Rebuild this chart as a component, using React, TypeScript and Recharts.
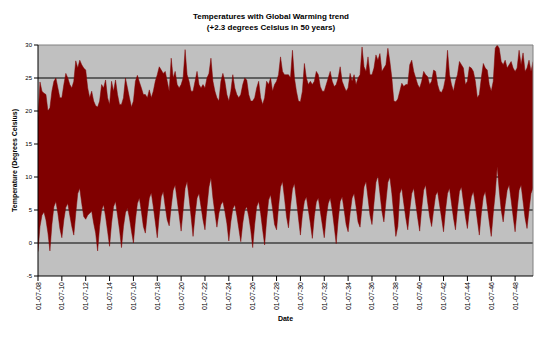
import React from "react";
import { AreaChart, Area, XAxis, YAxis, CartesianGrid, ReferenceLine, Label } from "recharts";

// six samples per year: Jan, Mar, May, Jul, Sep, Nov
const sampleMonths = ["Jan", "Mar", "May", "Jul", "Sep", "Nov"];

const years = [
  2008, 2009, 2010, 2011, 2012, 2013, 2014, 2015, 2016, 2017, 2018, 2019, 2020, 2021,
  2022, 2023, 2024, 2025, 2026, 2027, 2028, 2029, 2030, 2031, 2032, 2033, 2034, 2035,
  2036, 2037, 2038, 2039, 2040, 2041, 2042, 2043, 2044, 2045, 2046, 2047, 2048, 2049,
];

// daily maximum envelope (deg C)
const highByYear: number[][] = [
  [19.0, 24.4, 23.0, 22.7, 22.5, 20.0],
  [20.5, 23.0, 24.5, 25.0, 23.5, 22.0],
  [22.0, 24.0, 25.7, 25.0, 24.0, 23.5],
  [24.5, 27.6, 26.5, 27.7, 27.0, 26.5],
  [26.2, 23.5, 22.0, 23.0, 21.5, 20.8],
  [20.6, 21.5, 24.0, 23.5, 24.7, 22.0],
  [21.0, 24.5, 23.0, 24.7, 22.5, 21.0],
  [21.0, 22.0, 25.0, 23.5, 22.0, 20.6],
  [21.5, 24.5, 25.4, 24.4, 23.5, 22.5],
  [22.5, 22.0, 23.2, 22.0, 23.0, 24.5],
  [25.5, 26.7, 26.2, 25.7, 26.0, 24.5],
  [23.0, 28.0, 25.0, 26.0, 24.0, 23.5],
  [24.0, 25.0, 29.3, 25.5, 24.5, 23.0],
  [23.0, 24.5, 26.0, 24.0, 23.5, 24.0],
  [23.5, 25.0, 25.7, 28.0, 24.5, 23.0],
  [22.0, 21.5, 24.5, 25.7, 24.5, 22.5],
  [21.5, 23.0, 25.5, 23.5, 22.5, 22.0],
  [22.5, 24.0, 25.0, 24.7, 22.5, 21.5],
  [21.5, 22.0, 23.5, 24.5, 22.0, 21.0],
  [22.0, 24.5, 24.0, 25.0, 23.0, 24.0],
  [24.5, 25.5, 28.2, 26.0, 25.5, 25.5],
  [25.5, 25.0, 29.2, 25.0, 23.0, 21.5],
  [21.4, 23.0, 27.2, 25.0, 24.0, 24.5],
  [24.0, 24.5, 26.0, 25.5, 23.7, 23.0],
  [23.0, 24.0, 25.0, 26.0, 24.5, 23.7],
  [24.0, 25.0, 26.7, 24.5, 23.7, 23.0],
  [23.5, 25.7, 24.5, 25.5, 24.0, 25.0],
  [25.5, 29.7, 26.7, 26.0, 28.2, 25.5],
  [25.5, 26.5, 28.5, 27.7, 28.7, 26.0],
  [26.5, 27.0, 29.5, 27.5, 25.0, 21.5],
  [21.4, 21.8, 23.0, 24.2, 23.7, 24.0],
  [24.0, 27.0, 27.7, 26.0, 25.0, 24.0],
  [23.5, 24.5, 26.0, 25.5, 25.2, 24.0],
  [24.5, 26.2, 26.0, 24.0, 23.0, 22.8],
  [23.5, 25.0, 29.2, 25.5, 24.0, 23.0],
  [24.5, 25.5, 27.5, 27.0, 26.5, 24.0],
  [24.5, 26.7, 26.5, 26.0, 24.5, 22.0],
  [22.5, 25.0, 27.2, 26.5, 26.2, 24.0],
  [23.0, 24.5, 29.5, 30.0, 29.5, 27.5],
  [27.0, 27.7, 26.5, 27.0, 27.5, 26.5],
  [26.0, 26.5, 29.2, 27.0, 28.8, 26.0],
  [26.5, 27.7, 26.0, 27.5],
];

// daily minimum envelope (deg C)
const lowByYear: number[][] = [
  [-1.3, 2.5, 4.2, 4.7, 3.5, 1.5],
  [-1.2, 2.8, 5.5, 6.3, 4.5, 2.2],
  [0.8, 3.5, 5.4, 6.0, 4.2, 2.5],
  [1.2, 4.5, 7.5, 8.3, 6.0, 4.0],
  [3.6, 4.2, 4.5, 4.8, 3.0, 1.5],
  [-1.2, 2.5, 5.0, 5.8, 4.0, 1.8],
  [-0.5, 3.0, 5.5, 6.3, 4.2, 2.0],
  [-0.7, 2.5, 4.6, 5.3, 3.8, 1.8],
  [0.0, 3.5, 6.0, 6.8, 4.8, 2.5],
  [1.5, 4.5, 6.8, 7.6, 5.5, 3.2],
  [0.8, 4.2, 7.0, 7.8, 5.5, 3.5],
  [2.6, 5.5, 8.0, 8.8, 6.5, 4.2],
  [1.8, 5.0, 8.3, 9.3, 6.8, 4.0],
  [1.0, 4.2, 6.8, 7.5, 5.5, 3.5],
  [2.0, 5.5, 8.5, 9.9, 6.8, 4.5],
  [2.4, 4.5, 5.8, 6.3, 4.8, 3.0],
  [0.3, 3.2, 5.2, 5.8, 4.2, 2.2],
  [0.2, 3.0, 5.0, 5.5, 4.0, 2.0],
  [-0.7, 2.8, 5.5, 6.3, 4.5, 2.0],
  [-0.3, 3.5, 6.5, 7.3, 5.2, 2.8],
  [2.0, 5.5, 8.5, 9.3, 6.8, 4.0],
  [2.3, 5.5, 8.2, 9.0, 6.5, 3.8],
  [1.2, 4.3, 6.3, 7.0, 5.0, 3.0],
  [0.7, 4.0, 6.2, 6.8, 4.8, 2.8],
  [0.8, 4.0, 6.0, 6.8, 5.0, 2.5],
  [-0.1, 3.5, 6.3, 7.0, 5.0, 2.8],
  [1.7, 4.5, 6.8, 7.5, 5.5, 3.2],
  [2.4, 5.5, 8.5, 9.3, 6.8, 4.2],
  [2.8, 6.0, 9.2, 10.2, 7.5, 4.8],
  [3.2, 6.2, 9.2, 10.0, 7.5, 4.2],
  [1.0, 2.5, 7.5, 8.3, 6.0, 3.8],
  [2.0, 5.0, 7.5, 8.3, 6.0, 3.8],
  [1.8, 5.2, 8.0, 8.8, 6.2, 4.0],
  [2.5, 5.0, 7.2, 7.8, 5.8, 3.8],
  [1.7, 5.0, 7.5, 8.3, 6.0, 3.8],
  [2.0, 5.2, 7.8, 8.5, 6.2, 4.0],
  [2.2, 5.0, 7.0, 7.8, 5.8, 3.5],
  [1.2, 4.5, 7.0, 7.8, 5.5, 3.2],
  [1.0, 4.5, 7.5, 11.6, 8.0, 5.0],
  [3.2, 5.8, 8.0, 8.8, 6.5, 4.0],
  [1.7, 5.0, 8.0, 8.8, 6.3, 3.8],
  [2.2, 5.0, 7.5, 8.3],
];

const tempTicks = [-5, 0, 5, 10, 15, 20, 25, 30];
const gridValues = [0, 5, 10, 15, 20, 25];
const dateTicks = [
  2008, 2010, 2012, 2014, 2016, 2018, 2020, 2022, 2024, 2026, 2028, 2030, 2032, 2034,
  2036, 2038, 2040, 2042, 2044, 2046, 2048,
];

const data = years.flatMap((year, i) =>
  highByYear[i].map((high, j) => ({
    t: year + j / sampleMonths.length,
    range: [lowByYear[i][j], high],
  }))
);

const font = "'Liberation Sans', Arial, sans-serif";

function DateTick(props: any) {
  const { x, y, payload } = props;
  const yy = String(payload.value % 100).padStart(2, "0");
  return (
    <text
      transform={`translate(${x},${y - 1}) rotate(-90)`}
      textAnchor="end"
      dominantBaseline="central"
      fontSize={7}
      fontFamily={font}
      fill="#000"
    >
      {`01-07-${yy}`}
    </text>
  );
}

export default function App() {
  return (
    <div
      style={{
        position: "absolute",
        left: 0,
        top: 0,
        width: 542,
        height: 337,
        background: "#fff",
        fontFamily: font,
      }}
    >
      <div
        style={{
          position: "absolute",
          top: 11,
          left: 0,
          width: 542,
          textAlign: "center",
          fontSize: 8,
          fontWeight: "bold",
          lineHeight: "11px",
          color: "#000",
        }}
      >
        Temperatures with Global Warming trend
        <br />
        (+2.3 degrees Celsius in 50 years)
      </div>
      <AreaChart
        width={542}
        height={337}
        data={data}
        margin={{ top: 45, right: 9, bottom: 0, left: 0 }}
      >
        <CartesianGrid
          vertical={false}
          stroke="#000"
          fill="#c0c0c0"
          fillOpacity={1}
          horizontalValues={gridValues}
        />
        <XAxis
          dataKey="t"
          type="number"
          domain={[2008, 2049.5]}
          ticks={dateTicks}
          interval={0}
          allowDataOverflow
          height={61}
          tickSize={5}
          tick={<DateTick />}
          axisLine={{ stroke: "#000" }}
          tickLine={{ stroke: "#000" }}
        >
          <Label
            value="Date"
            position="insideBottom"
            offset={16}
            style={{ fontSize: 7, fontWeight: "bold", fill: "#000", fontFamily: font }}
          />
        </XAxis>
        <YAxis
          type="number"
          domain={[-5, 30]}
          ticks={tempTicks}
          interval={0}
          allowDataOverflow
          width={38}
          tickSize={4}
          tickMargin={2}
          tick={{ fontSize: 6, fill: "#000", fontFamily: font }}
          axisLine={{ stroke: "#000" }}
          tickLine={{ stroke: "#000" }}
        >
          <Label
            value="Temperature (Degrees Celsius)"
            angle={-90}
            position="insideLeft"
            offset={15}
            style={{
              textAnchor: "middle",
              fontSize: 7,
              fontWeight: "bold",
              fill: "#000",
              fontFamily: font,
            }}
          />
        </YAxis>
        <ReferenceLine y={30} stroke="#808080" />
        <ReferenceLine x={2049.5} stroke="#808080" />
        <Area
          dataKey="range"
          type="linear"
          stroke="#800000"
          strokeWidth={0.5}
          fill="#800000"
          fillOpacity={1}
          dot={false}
          activeDot={false}
          isAnimationActive={false}
        />
      </AreaChart>
    </div>
  );
}
